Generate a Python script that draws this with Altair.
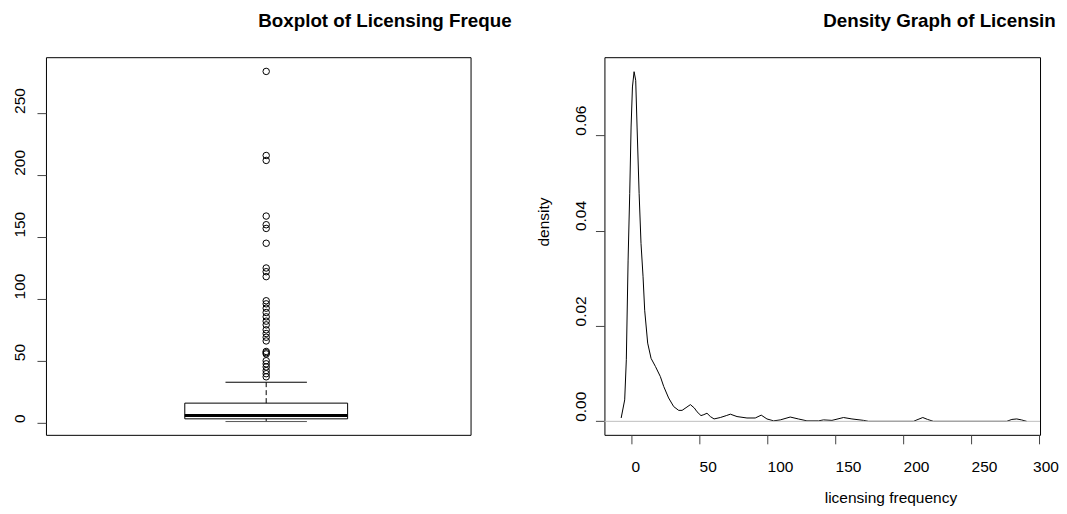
import altair as alt
import pandas as pd

# ---------------- data ----------------
# Boxplot summary of licensing frequency
box_q1 = [3.0]
box_median = [5.6]
box_q3 = [15.7]
whisker_low = [0.8]
whisker_high = [32.6]

# outliers (values above the upper whisker)
outlier_values = [284, 216, 212, 167, 160, 157, 145, 125, 122, 118,
                  98.5, 96, 92.5, 89, 85.5, 82, 79, 75, 72, 69, 66,
                  57.5, 56.5, 55.5, 50, 47.5, 45, 42, 39.5, 37]

# density curve
density_x = [-7.3, -4.7, -3.5, -2.2, -1.0, 0.0, 1.0, 2.2, 3.4, 4.4, 5.9, 7.3,
             8.8, 10.0, 12.2, 14.7, 17.9, 21.5, 24.0, 27.6, 31.3, 35.0, 37.5,
             41.1, 43.6, 46.5, 48.5, 51.4, 53.5, 55.8, 58.3, 61.0, 65.6, 70.0,
             73.0, 77.9, 85.2, 91.3, 95.7, 99.9, 104.8, 109.7, 117.0, 123.0,
             129.3, 137.8, 141.5, 147.7, 156.2, 162.4, 171.0, 174.6, 207.6,
             211.0, 214.5, 218.0, 222.3, 276.2, 280.0, 283.6, 287.0, 290.9]
density_y = [0.0007, 0.0045, 0.0129, 0.0338, 0.0478, 0.0617, 0.0701, 0.0733,
             0.0715, 0.0617, 0.0478, 0.0373, 0.0303, 0.0233, 0.0164, 0.0132,
             0.0115, 0.0094, 0.0073, 0.0049, 0.0031, 0.0023, 0.0023, 0.0030,
             0.0035, 0.0028, 0.0020, 0.0012, 0.0014, 0.0017, 0.0010, 0.0005,
             0.0008, 0.0012, 0.0015, 0.0010, 0.0007, 0.0007, 0.0013, 0.0005,
             0.0001, 0.0003, 0.0009, 0.0005, 0.0001, 0.0001, 0.0003, 0.0002,
             0.0008, 0.0005, 0.0002, 0.0, 0.0, 0.0004, 0.0008, 0.0004, 0.0,
             0.0, 0.0004, 0.0005, 0.0003, 0.0]

box_y_ticks = [0, 50, 100, 150, 200, 250]
dens_x_ticks = [0, 50, 100, 150, 200, 250, 300]
dens_y_ticks = [0.0, 0.02, 0.04, 0.06]

left_title = "Boxplot of Licensing Freque"
right_title = "Density Graph of Licensin"
x_label = "licensing frequency"
y_label = "density"

# ---------------- styling ----------------
FONT = "Liberation Sans"
FS = 15.5
TFS = 18.8

box_df = pd.DataFrame({
    "pos": [1.0], "left": [0.6], "right": [1.4], "capl": [0.8], "capr": [1.2],
    "q1": box_q1, "med": box_median, "q3": box_q3,
    "wl": whisker_low, "wh": whisker_high,
})
out_df = pd.DataFrame({"pos": [1.0] * len(outlier_values), "val": outlier_values})
dens_df = pd.DataFrame({"x": density_x, "y": density_y})
zero_df = pd.DataFrame({"y0": [0.0]})

LW, LH = 425, 378
RW, RH = 436, 378

xsb = alt.Scale(domain=[-0.082, 2.004], nice=False, zero=False)
ysb = alt.Scale(domain=[-9.94, 295.5], nice=False, zero=False)

yaxis_box = alt.Axis(values=box_y_ticks, title=None, labelAngle=270,
                     labelAlign="left", labelBaseline="alphabetic",
                     labelPadding=12.7, tickSize=9, labelFlush=False,
                     labelOverlap=False, grid=False, domain=False,
                     labelFont=FONT, labelFontSize=FS, labelColor="black",
                     tickColor="#444444")

base_b = alt.Chart(box_df)
box_rect = base_b.mark_rect(fill="white", stroke="black", strokeWidth=1).encode(
    x=alt.X("left:Q", scale=xsb, axis=None), x2="right:Q",
    y=alt.Y("q1:Q", scale=ysb, axis=yaxis_box), y2="q3:Q")
med = base_b.mark_rule(color="black", strokeWidth=3).encode(
    x=alt.X("left:Q", scale=xsb, axis=None), x2="right:Q",
    y=alt.Y("med:Q", scale=ysb, axis=yaxis_box))
wh_up = base_b.mark_rule(color="black", strokeWidth=1, strokeDash=[5, 3]).encode(
    x=alt.X("pos:Q", scale=xsb, axis=None),
    y=alt.Y("q3:Q", scale=ysb, axis=yaxis_box), y2="wh:Q")
wh_lo = base_b.mark_rule(color="black", strokeWidth=1, strokeDash=[5, 3]).encode(
    x=alt.X("pos:Q", scale=xsb, axis=None),
    y=alt.Y("wl:Q", scale=ysb, axis=yaxis_box), y2="q1:Q")
cap_up = base_b.mark_rule(color="black", strokeWidth=1).encode(
    x=alt.X("capl:Q", scale=xsb, axis=None), x2="capr:Q",
    y=alt.Y("wh:Q", scale=ysb, axis=yaxis_box))
cap_lo = base_b.mark_rule(color="#555555", strokeWidth=1).encode(
    x=alt.X("capl:Q", scale=xsb, axis=None), x2="capr:Q",
    y=alt.Y("wl:Q", scale=ysb, axis=yaxis_box))
outl = alt.Chart(out_df).mark_point(shape="circle", filled=False, size=42,
                                    color="black", strokeWidth=1, opacity=1).encode(
    x=alt.X("pos:Q", scale=xsb, axis=None),
    y=alt.Y("val:Q", scale=ysb, axis=yaxis_box))

left = alt.layer(box_rect, wh_up, wh_lo, cap_up, cap_lo, med, outl).properties(
    width=LW, height=LH,
    title=alt.TitleParams(left_title, anchor="start", frame="group", dx=LW / 2,
                          fontSize=TFS, fontWeight="bold", font=FONT,
                          baseline="alphabetic", offset=11.2, color="black"))

xsd = alt.Scale(domain=[-19.6, 300.7], nice=False, zero=False)
ysd = alt.Scale(domain=[-0.00283, 0.07634], nice=False, zero=False)

xaxis_d = alt.Axis(values=dens_x_ticks, title=x_label, labelAlign="left",
                   labelBaseline="alphabetic", labelPadding=28, tickSize=9,
                   labelOffset={"condition": {"test": "datum.value === 300",
                                              "value": -6.5},
                                "value": 0},
                   labelFlush=False, labelOverlap=False, grid=False, domain=False,
                   labelFont=FONT, labelFontSize=FS, labelColor="black",
                   tickColor="#444444",
                   titleFont=FONT, titleFontSize=FS, titleFontWeight="normal",
                   titleColor="black",
                   titleAlign="left", titleBaseline="alphabetic",
                   titleX=RW / 2 + 2, titleY=67.5, titleAngle=0)
yaxis_d = alt.Axis(values=dens_y_ticks, format=".2f", title=y_label,
                   labelAngle=270, labelAlign="left", labelBaseline="alphabetic",
                   labelPadding=10, tickSize=9, labelFlush=False,
                   labelOverlap=False, grid=False, domain=False,
                   labelFont=FONT, labelFontSize=FS, labelColor="black",
                   tickColor="#444444",
                   titleFont=FONT, titleFontSize=FS, titleFontWeight="normal",
                   titleColor="black",
                   titleAngle=270, titleAlign="left", titleBaseline="alphabetic",
                   titleX=-56, titleY=RH / 2)

curve = alt.Chart(dens_df).mark_line(color="black", strokeWidth=1).encode(
    x=alt.X("x:Q", scale=xsd, axis=xaxis_d),
    y=alt.Y("y:Q", scale=ysd, axis=yaxis_d))
zero = alt.Chart(zero_df).mark_rule(color="#BEBEBE", strokeWidth=1).encode(
    x=alt.value(0), x2=alt.value(RW),
    y=alt.Y("y0:Q", scale=ysd, axis=yaxis_d))

right = alt.layer(curve, zero).properties(
    width=RW, height=RH,
    title=alt.TitleParams(right_title, anchor="start", frame="group", dx=RW / 2 + 1,
                          fontSize=TFS, fontWeight="bold", font=FONT,
                          baseline="alphabetic", offset=11.2, color="black"))

chart = alt.hconcat(left, right, spacing=134, bounds="flush").properties(
    padding={"left": 3, "top": 3, "right": 0, "bottom": 0},
    background="white",
).configure_view(stroke="black", strokeWidth=1).configure_axis(
    domain=False, grid=False, tickColor="#444444", tickWidth=1,
    labelColor="black", labelFont=FONT, labelFontSize=FS,
    titleColor="black", titleFont=FONT, titleFontSize=FS, titleFontWeight="normal"
)

chart.save("out.html", embed_options={"renderer": "svg", "actions": False})
